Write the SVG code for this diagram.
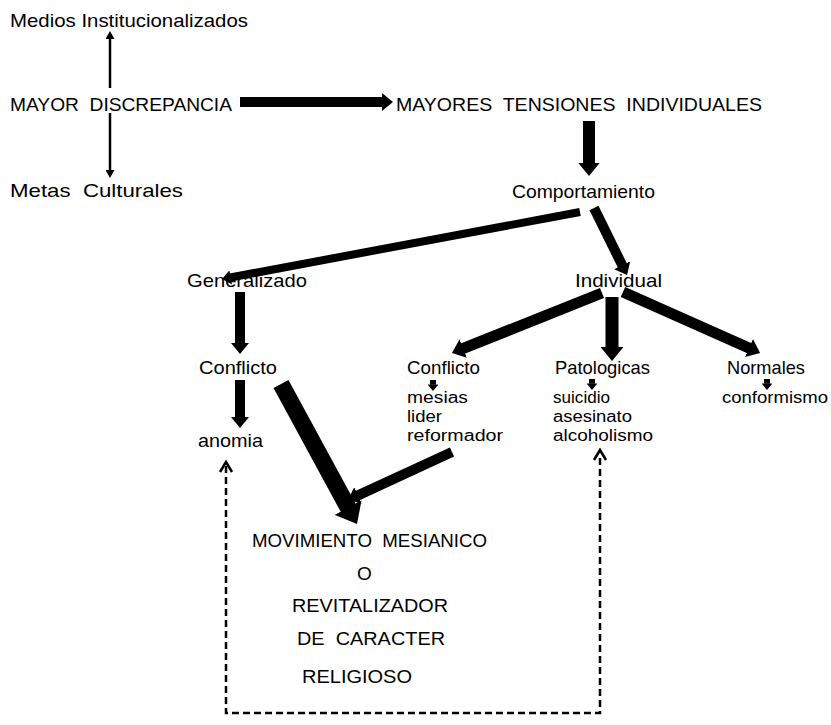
<svg xmlns="http://www.w3.org/2000/svg" width="831" height="725" viewBox="0 0 831 725">
<style>
text{font-family:"Liberation Sans",Arial,sans-serif;font-size:19px;fill:#000}
text.s{font-size:16px}
.c{stroke:#000;fill:none}
.t{stroke-width:10;marker-end:url(#ah)}
.thin{stroke-width:2.5;marker-end:url(#th)}
.dash{stroke-width:2.5;stroke-dasharray:7 4}
</style>
<defs>
<marker id="ah" viewBox="0 0 11 18" refX="0.5" refY="9" markerWidth="1.1" markerHeight="1.8" orient="auto" markerUnits="strokeWidth"><path d="M0,0 L11,9 L0,18 z" fill="#000"/></marker>
<marker id="th" viewBox="0 0 8 9" refX="1" refY="4.5" markerWidth="3.2" markerHeight="3.6" orient="auto" markerUnits="strokeWidth"><path d="M0,0 L8,4.5 L0,9 z" fill="#000"/></marker>
</defs>
<rect width="831" height="725" fill="#fff"/>
<g id="connectors">
<line class="c thin" x1="110" y1="88" x2="110" y2="38"/>
<line class="c thin" x1="110" y1="113" x2="110" y2="171"/>
<line class="c t" x1="240" y1="102" x2="382.5" y2="102"/>
<line class="c t" style="stroke-width:12" x1="589" y1="121" x2="589" y2="163.4"/>
<line class="c t" style="stroke-width:8" x1="580" y1="212" x2="230.3" y2="277.5"/>
<line class="c t" x1="594" y1="208" x2="622.4" y2="265.6"/>
<line class="c t" x1="240" y1="292" x2="240" y2="343.5"/>
<line class="c t" x1="240" y1="380" x2="240" y2="417.5"/>
<line class="c t" style="stroke-width:17" x1="281" y1="384" x2="348.5" y2="508.3"/>
<line class="c t" x1="452" y1="452" x2="357.5" y2="495.6"/>
<line class="c t" style="stroke-width:11" x1="602" y1="293" x2="462.7" y2="348.7"/>
<line class="c t" style="stroke-width:13" x1="612" y1="297" x2="612" y2="347.4"/>
<line class="c t" style="stroke-width:11" x1="623" y1="292" x2="749.5" y2="348.3"/>
<line class="c t" style="stroke-width:6" x1="433" y1="380" x2="433" y2="384.7"/>
<line class="c t" style="stroke-width:6" x1="592" y1="379" x2="592" y2="383.7"/>
<line class="c t" style="stroke-width:6" x1="767" y1="379" x2="767" y2="383.7"/>
<path class="c dash" d="M226,466 V713 H600 V454"/>
<polyline class="c" stroke-width="2.5" points="220,472 226,462 232,472"/>
<polyline class="c" stroke-width="2.5" points="594,460 600,450 606,460"/>
</g>
<g id="medios"><text x="10" y="27" textLength="238" lengthAdjust="spacingAndGlyphs">Medios Institucionalizados</text></g>
<g id="discrepancia"><text x="10" y="111" textLength="222" lengthAdjust="spacingAndGlyphs" xml:space="preserve">MAYOR  DISCREPANCIA</text></g>
<g id="metas"><text x="10" y="197" textLength="173" lengthAdjust="spacingAndGlyphs" xml:space="preserve">Metas  Culturales</text></g>
<g id="tensiones"><text x="396" y="111" textLength="366" lengthAdjust="spacingAndGlyphs" xml:space="preserve">MAYORES  TENSIONES  INDIVIDUALES</text></g>
<g id="comportamiento"><text x="512" y="198" textLength="143" lengthAdjust="spacingAndGlyphs">Comportamiento</text></g>
<g id="generalizado"><text x="187" y="287" textLength="120" lengthAdjust="spacingAndGlyphs">Generalizado</text></g>
<g id="individual"><text x="575" y="287" textLength="87" lengthAdjust="spacingAndGlyphs">Individual</text></g>
<g id="conflicto-gen"><text x="199" y="374" textLength="78" lengthAdjust="spacingAndGlyphs">Conflicto</text></g>
<g id="anomia"><text x="198" y="447" textLength="65" lengthAdjust="spacingAndGlyphs">anomia</text></g>
<g id="conflicto-ind"><text x="407" y="374" textLength="73" lengthAdjust="spacingAndGlyphs">Conflicto</text></g>
<g id="mesias">
<text class="s" x="407" y="403" textLength="61" lengthAdjust="spacingAndGlyphs">mesias</text>
<text class="s" x="407" y="422" textLength="35" lengthAdjust="spacingAndGlyphs">lider</text>
<text class="s" x="407" y="441" textLength="96" lengthAdjust="spacingAndGlyphs">reformador</text>
</g>
<g id="patologicas"><text x="555" y="374" textLength="95" lengthAdjust="spacingAndGlyphs">Patologicas</text></g>
<g id="suicidio">
<text class="s" x="553" y="403" textLength="57" lengthAdjust="spacingAndGlyphs">suicidio</text>
<text class="s" x="553" y="422" textLength="79" lengthAdjust="spacingAndGlyphs">asesinato</text>
<text class="s" x="553" y="441" textLength="100" lengthAdjust="spacingAndGlyphs">alcoholismo</text>
</g>
<g id="normales"><text x="727" y="374" textLength="78" lengthAdjust="spacingAndGlyphs">Normales</text></g>
<g id="conformismo"><text class="s" x="722" y="403" textLength="106" lengthAdjust="spacingAndGlyphs">conformismo</text></g>
<g id="movimiento">
<text x="252" y="547" textLength="235" lengthAdjust="spacingAndGlyphs" xml:space="preserve">MOVIMIENTO  MESIANICO</text>
<text x="357" y="580">O</text>
<text x="292" y="612" textLength="156" lengthAdjust="spacingAndGlyphs">REVITALIZADOR</text>
<text x="297" y="645" textLength="148" lengthAdjust="spacingAndGlyphs" xml:space="preserve">DE  CARACTER</text>
<text x="302" y="683" textLength="110" lengthAdjust="spacingAndGlyphs">RELIGIOSO</text>
</g>
</svg>
